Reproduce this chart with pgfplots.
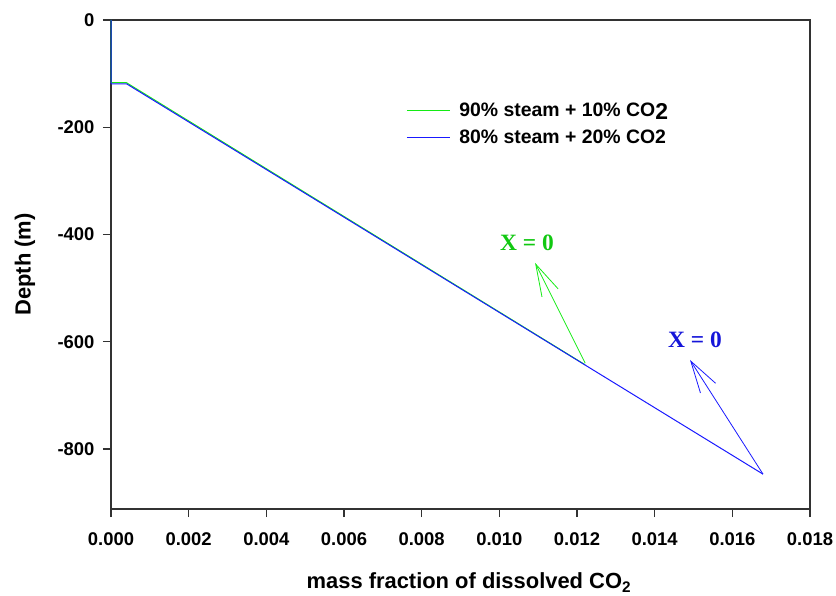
\documentclass[border=0pt]{standalone}
\usepackage{fontspec}
\setmainfont{Liberation Sans}
\newfontfamily\timesf{Liberation Serif}
\usepackage{pgfplots}
\pgfplotsset{compat=1.18}
\usetikzlibrary{arrows.meta}
\definecolor{lgreen}{RGB}{20,235,20}
\definecolor{lblue}{RGB}{25,25,255}
\definecolor{axgray}{RGB}{50,50,50}
\begin{document}
\begin{tikzpicture}
\begin{axis}[
  set layers, clip=false,
  width=699bp, height=489bp, scale only axis,
  xmin=0, xmax=0.018, ymin=-912, ymax=0,
  xtick={0,0.002,0.004,0.006,0.008,0.010,0.012,0.014,0.016,0.018},
  ytick={0,-200,-400,-600,-800},
  tick align=outside, tick pos=left,
  major tick length=8bp,
  axis line style={axgray, line width=1.2bp},
  every tick/.style={axgray, line width=1.2bp},
  scaled x ticks=false,
  /pgf/number format/assume math mode=true,
  xticklabel style={yshift=-12bp, /pgf/number format/.cd, fixed, fixed zerofill, precision=3},
  yticklabel style={xshift=-5bp},
  ticklabel style={font=\fontsize{18.5}{21}\selectfont\bfseries},
  xlabel={mass fraction of dissolved CO\textsubscript{2}},
  ylabel={Depth (m)},
  label style={font=\fontsize{22}{25}\selectfont\bfseries},
  xlabel style={at={(rel axis cs:0.512,-0.15)}, anchor=center},
  ylabel style={at={(rel axis cs:-0.123,0.5)}, anchor=center},
  legend style={draw=none, fill=none, inner sep=0pt, at={(rel axis cs:0.422,0.835)}, anchor=north west, font=\fontsize{19.5}{23}\selectfont\bfseries, row sep=8bp},
  legend image code/.code={\draw[#1, line width=1.2bp] (0bp,0bp) -- (43bp,0bp); \path (50bp,0bp);},
  legend cell align=left,
]
\addplot[lgreen, line width=1bp] coordinates {(0,0) (0,-117) (0.0004,-117) (0.01221,-643)};
\addlegendentry{90\% steam + 10\% CO\raisebox{-0.25ex}{\fontsize{23}{24}\selectfont 2}}
\addplot[lblue, line width=1bp] coordinates {(0,0) (0,-119) (0.0004,-119) (0.01679,-847)};
\addlegendentry{80\% steam + 20\% CO2}
\draw[lgreen, line width=0.8bp, -{Straight Barb[length=32bp,width=18bp]}] (axis cs:0.01221,-640) -- (axis cs:0.01092,-453);
\draw[lblue, line width=0.8bp, -{Straight Barb[length=32bp,width=18bp]}] (axis cs:0.01679,-847) -- (axis cs:0.01491,-634);
\node[text=lgreen!85!black, font=\timesf\bfseries\fontsize{23.5}{27}\selectfont] at (axis cs:0.01071,-416) {X = 0};
\node[text=lblue!85!black, font=\timesf\bfseries\fontsize{23.5}{27}\selectfont] at (axis cs:0.01504,-597) {X = 0};
\end{axis}
\pgfresetboundingbox
\useasboundingbox ([shift={(-111bp,-87bp)}]current axis.south west) rectangle ([shift={(26bp,20bp)}]current axis.north east);
\end{tikzpicture}
\end{document}
